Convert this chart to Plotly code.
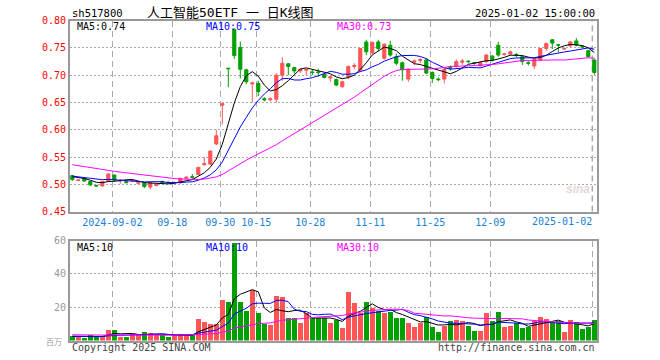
import plotly.graph_objects as go
import pandas as pd

# ---------------- data ----------------
dates = [
    "2024-08-22", "2024-08-23", "2024-08-26", "2024-08-27", "2024-08-28", "2024-08-29", "2024-08-30",
    "2024-09-02", "2024-09-03", "2024-09-04", "2024-09-05", "2024-09-06", "2024-09-09", "2024-09-10",
    "2024-09-11", "2024-09-12", "2024-09-13", "2024-09-18", "2024-09-19", "2024-09-20", "2024-09-23",
    "2024-09-24", "2024-09-25", "2024-09-26", "2024-09-27", "2024-09-30",
    "2024-10-08", "2024-10-09", "2024-10-10", "2024-10-11", "2024-10-14", "2024-10-15", "2024-10-16",
    "2024-10-17", "2024-10-18", "2024-10-21", "2024-10-22", "2024-10-23", "2024-10-24", "2024-10-25",
    "2024-10-28", "2024-10-29", "2024-10-30", "2024-10-31",
    "2024-11-01", "2024-11-04", "2024-11-05", "2024-11-06", "2024-11-07", "2024-11-08", "2024-11-11",
    "2024-11-12", "2024-11-13", "2024-11-14", "2024-11-15", "2024-11-18", "2024-11-19", "2024-11-20",
    "2024-11-21", "2024-11-22", "2024-11-25", "2024-11-26", "2024-11-27", "2024-11-28", "2024-11-29",
    "2024-12-02", "2024-12-03", "2024-12-04", "2024-12-05", "2024-12-06", "2024-12-09", "2024-12-10",
    "2024-12-11", "2024-12-12", "2024-12-13", "2024-12-16", "2024-12-17", "2024-12-18", "2024-12-19",
    "2024-12-20", "2024-12-23", "2024-12-24", "2024-12-25", "2024-12-26", "2024-12-27", "2024-12-30",
    "2024-12-31", "2025-01-02",
]

opens = [
    0.516, 0.507, 0.511, 0.505, 0.498, 0.497, 0.507, 0.517, 0.506, 0.505,
    0.506, 0.502, 0.502, 0.495, 0.498, 0.505, 0.504, 0.502, 0.503, 0.511,
    0.514, 0.518, 0.536, 0.537, 0.574, 0.645, 0.713, 0.784, 0.751, 0.710,
    0.684, 0.685, 0.657, 0.655, 0.656, 0.700, 0.721, 0.714, 0.708, 0.709,
    0.706, 0.706, 0.702, 0.695, 0.692, 0.679, 0.697, 0.716, 0.709, 0.761,
    0.741, 0.761, 0.731, 0.755, 0.734, 0.723, 0.693, 0.724, 0.727, 0.728,
    0.705, 0.693, 0.693, 0.714, 0.716, 0.724, 0.726, 0.723, 0.717, 0.725,
    0.735, 0.755, 0.738, 0.739, 0.738, 0.734, 0.723, 0.717, 0.728, 0.749,
    0.765, 0.756, 0.748, 0.754, 0.763, 0.753, 0.745, 0.728,
]
highs = [
    0.517, 0.509, 0.513, 0.506, 0.499, 0.506, 0.520, 0.518, 0.510, 0.506,
    0.510, 0.505, 0.503, 0.504, 0.501, 0.507, 0.505, 0.505, 0.512, 0.515,
    0.519, 0.532, 0.550, 0.562, 0.600, 0.648, 0.713, 0.786, 0.762, 0.712,
    0.688, 0.690, 0.660, 0.659, 0.704, 0.733, 0.722, 0.715, 0.712, 0.712,
    0.710, 0.712, 0.703, 0.699, 0.694, 0.690, 0.718, 0.722, 0.750, 0.765,
    0.762, 0.765, 0.758, 0.763, 0.740, 0.725, 0.713, 0.729, 0.731, 0.732,
    0.707, 0.696, 0.713, 0.718, 0.729, 0.730, 0.727, 0.724, 0.725, 0.739,
    0.737, 0.761, 0.741, 0.745, 0.741, 0.736, 0.726, 0.729, 0.750, 0.760,
    0.766, 0.757, 0.751, 0.763, 0.768, 0.755, 0.746, 0.731,
]
lows = [
    0.506, 0.506, 0.505, 0.497, 0.496, 0.496, 0.505, 0.505, 0.501, 0.502,
    0.504, 0.500, 0.493, 0.491, 0.496, 0.501, 0.501, 0.500, 0.501, 0.509,
    0.510, 0.517, 0.534, 0.535, 0.572, 0.610, 0.678, 0.730, 0.694, 0.684,
    0.650, 0.662, 0.652, 0.652, 0.650, 0.690, 0.700, 0.703, 0.704, 0.700,
    0.700, 0.697, 0.694, 0.688, 0.680, 0.677, 0.693, 0.711, 0.707, 0.737,
    0.739, 0.744, 0.729, 0.734, 0.718, 0.690, 0.688, 0.719, 0.722, 0.702,
    0.686, 0.689, 0.685, 0.708, 0.714, 0.719, 0.722, 0.719, 0.716, 0.722,
    0.725, 0.734, 0.736, 0.736, 0.733, 0.719, 0.718, 0.711, 0.727, 0.745,
    0.748, 0.742, 0.747, 0.751, 0.753, 0.750, 0.733, 0.701,
]
closes = [
    0.509, 0.508, 0.506, 0.499, 0.497, 0.505, 0.519, 0.508, 0.507, 0.503,
    0.507, 0.503, 0.496, 0.503, 0.499, 0.503, 0.503, 0.503, 0.511, 0.513,
    0.513, 0.531, 0.538, 0.561, 0.589, 0.648, 0.712, 0.736, 0.711, 0.688,
    0.686, 0.670, 0.655, 0.657, 0.700, 0.722, 0.716, 0.708, 0.711, 0.711,
    0.705, 0.705, 0.696, 0.697, 0.682, 0.688, 0.716, 0.718, 0.749, 0.743,
    0.760, 0.749, 0.757, 0.737, 0.722, 0.710, 0.711, 0.726, 0.729, 0.704,
    0.694, 0.692, 0.711, 0.713, 0.725, 0.726, 0.725, 0.722, 0.723, 0.737,
    0.728, 0.737, 0.739, 0.743, 0.737, 0.725, 0.722, 0.729, 0.749, 0.758,
    0.759, 0.755, 0.749, 0.761, 0.755, 0.752, 0.734, 0.705,
]
volumes = [
    2.5, 2.0, 1.6, 3.4, 2.4, 2.8, 6.4, 6.4, 2.4, 2.4,
    3.8, 3.2, 5.2, 4.4, 3.2, 3.2, 2.4, 3.2, 4.0, 3.2,
    3.2, 12.8, 11.0, 9.8, 9.8, 24.6, 23.0, 58.4, 23.0, 18.0,
    30.4, 16.4, 10.0, 9.6, 27.0, 26.4, 13.6, 13.6, 10.6, 16.4,
    13.6, 13.6, 13.6, 10.4, 12.4, 7.4, 29.0, 22.4, 16.4, 23.0,
    19.4, 18.0, 16.4, 17.0, 13.4, 13.4, 10.4, 8.4, 10.4, 14.4,
    8.4, 5.0, 9.0, 12.0, 12.6, 12.0, 8.6, 6.0, 5.6, 16.4,
    11.6, 17.0, 8.0, 9.0, 10.4, 7.4, 8.0, 11.6, 14.2, 12.8,
    11.0, 11.8, 5.2, 12.2, 11.2, 7.0, 8.4, 12.2,
]
# sessions before the visible window, estimated from where the MA lines start
prior_closes = [
    0.562, 0.565, 0.558, 0.560, 0.556, 0.552, 0.555, 0.549, 0.546, 0.548,
    0.543, 0.545, 0.540, 0.537, 0.542, 0.539, 0.535, 0.533, 0.536, 0.530,
    0.521, 0.518, 0.514, 0.512, 0.515, 0.513, 0.517, 0.516, 0.515,
]
prior_volumes = [
    4.5, 3.8, 4.2, 3.5, 5.1, 3.9, 3.6, 4.4, 3.2, 3.7,
    4.0, 3.4, 4.6, 3.3, 3.9, 3.8, 4.1, 3.5, 3.6, 3.9,
    3.1, 2.7, 3.2, 2.6, 2.9, 2.4, 2.8, 2.3, 2.5,
]
tick_dates = ["2024-09-02", "2024-09-18", "2024-09-30", "2024-10-15", "2024-10-28",
              "2024-11-11", "2024-11-25", "2024-12-09", "2025-01-02"]
tick_labels = ["2024-09-02", "09-18", "09-30", "10-15", "10-28",
               "11-11", "11-25", "12-09", "2025-01-02"]
price_ticks = [0.45, 0.50, 0.55, 0.60, 0.65, 0.70, 0.75, 0.80]
volume_ticks = [20, 40, 60]
ma_windows = [5, 10, 30]
ma_colors = ["#000000", "#0000FF", "#FF00FF"]

# ---------------- derived ----------------
n = len(dates)
xi = list(range(n))
np_ = len(prior_closes)
all_close = pd.Series(prior_closes + closes)
all_vol = pd.Series(prior_volumes + volumes)
price_ma = {w: all_close.rolling(w).mean().iloc[np_:].tolist() for w in ma_windows}
vol_ma = {w: all_vol.rolling(w).mean().iloc[np_:].tolist() for w in ma_windows}

UP = "#FF5555"
DN = "#00A000"
bar_colors = [UP if c >= o else DN for o, c in zip(opens, closes)]
tick_idx = [dates.index(d) - 0.33 for d in tick_dates]

W, H = 660, 360
def px(x):
    return x / W
def py(y):
    return 1 - y / H

fig = go.Figure()
fig.add_trace(go.Candlestick(
    x=xi, open=opens, high=highs, low=lows, close=closes,
    increasing=dict(line=dict(color=UP, width=1), fillcolor=UP),
    decreasing=dict(line=dict(color=DN, width=1), fillcolor=DN),
    whiskerwidth=0, showlegend=False, hoverinfo="skip",
    xaxis="x", yaxis="y",
))
for w, col in zip(ma_windows, ma_colors):
    fig.add_trace(go.Scatter(x=xi, y=price_ma[w], mode="lines",
                             line=dict(color=col, width=1), showlegend=False,
                             hoverinfo="skip", xaxis="x", yaxis="y"))
fig.add_trace(go.Bar(x=xi, y=volumes, marker=dict(color=bar_colors, line=dict(width=0)),
                     width=0.82, showlegend=False, hoverinfo="skip",
                     xaxis="x2", yaxis="y2"))
for w, col in zip(ma_windows, ma_colors):
    fig.add_trace(go.Scatter(x=xi, y=vol_ma[w], mode="lines",
                             line=dict(color=col, width=1), showlegend=False,
                             hoverinfo="skip", xaxis="x2", yaxis="y2"))

MONO = "DejaVu Sans Mono, Liberation Mono, monospace"
xr = [-0.383, 87.45]
xdom = [px(70), px(597)]
frame = dict(showline=True, mirror=True, linecolor="#999999", linewidth=2, zeroline=False)

fig.update_layout(
    width=W, height=H, autosize=False,
    margin=dict(l=0, r=0, t=0, b=0, pad=0, autoexpand=False),
    paper_bgcolor="white", plot_bgcolor="white",
    boxgap=0.25, bargap=0, hovermode=False,
    xaxis=dict(domain=xdom, range=xr, anchor="y", tickmode="array",
               tickvals=tick_idx[:-1], ticktext=tick_labels[:-1], ticks="",
               tickfont=dict(family=MONO, size=10, color="#1A7FD4"),
               showgrid=True, gridcolor="#AAAAAA", gridwidth=1.5, griddash="6px,4px",
               rangeslider=dict(visible=False), automargin=False, **frame),
    yaxis=dict(domain=[py(211.6), py(20.7)], range=[0.45, 0.80], anchor="x",
               tickmode="array", tickvals=price_ticks,
               ticktext=["%.2f" % v for v in price_ticks], ticks="",
               tickfont=dict(family=MONO, size=10, color="#FF0000"),
               showgrid=True, gridcolor="#AAAAAA", gridwidth=1, griddash="2px,2px",
               automargin=False, **frame),
    xaxis2=dict(domain=xdom, range=xr, anchor="y2", tickmode="array",
                tickvals=tick_idx, showticklabels=False, ticks="",
                showgrid=True, gridcolor="#AAAAAA", gridwidth=1.5, griddash="6px,4px",
                automargin=False, **frame),
    yaxis2=dict(domain=[py(340.6), py(240.5)], range=[0, 60], anchor="x2",
                tickmode="array", tickvals=volume_ticks,
                ticktext=[str(v) for v in volume_ticks], ticks="",
                tickfont=dict(family=MONO, size=10, color="#999999"),
                showgrid=True, gridcolor="#AAAAAA", gridwidth=1, griddash="2px,2px",
                automargin=False, **frame),
)
# last date gridline in the price panel (its label is right-aligned to it)
fig.add_shape(type="line", xref="x", yref="paper", x0=tick_idx[-1], x1=tick_idx[-1],
              y0=py(211.6), y1=py(20.7), layer="below",
              line=dict(color="#AAAAAA", width=1.5, dash="6px,4px"))

def label(text, x, y, color="#000000", size=10, xanchor="left", family=MONO):
    fig.add_annotation(text=text, x=px(x), y=py(y), xref="paper", yref="paper",
                       xanchor=xanchor, yanchor="middle", showarrow=False,
                       font=dict(family=family, size=size, color=color))

label(tick_labels[-1], 594, 221, color="#1A7FD4", xanchor="right")
label("sh517800", 70, 13, size=10.5)
label("人工智能50ETF 一 日K线图", 230, 13, size=13, xanchor="center",
      family="DejaVu Sans Mono, Noto Sans CJK SC")
label("2025-01-02 15:00:00", 597, 13, size=10.5, xanchor="right")

last_p = {w: price_ma[w][-1] for w in ma_windows}
last_v = {w: vol_ma[w][-1] for w in ma_windows}
ma_x = [75, 204, 335]
for (w, col, x) in zip(ma_windows, ma_colors, ma_x):
    label("MA%d:%.2f" % (w, last_p[w]), x, 27, color=col)
    label("MA%d:%d" % (w, int(last_v[w])), x, 247, color=col)

label("百万", 64, 341, color="#999999", size=8, xanchor="right",
      family="Noto Sans CJK SC")
label("Copyright 2025 SINA.COM", 70, 347, color="#444444")
label("http://finance.sina.com.cn", 597, 347, color="#444444", xanchor="right")
label("<b><i>sina</i></b>", 578, 189, color="#E6D6D6", size=12, xanchor="center",
      family="Arial, Liberation Sans")

fig.write_html(
    "out.html",
    config={"displayModeBar": False, "responsive": False, "staticPlot": True},
    post_script=("document.documentElement.style.margin='0';"
                 "document.documentElement.style.padding='0';"
                 "document.documentElement.style.overflow='hidden';"
                 "document.body.style.margin='0';"
                 "document.body.style.padding='0';"
                 "document.body.style.overflow='hidden';"),
)
